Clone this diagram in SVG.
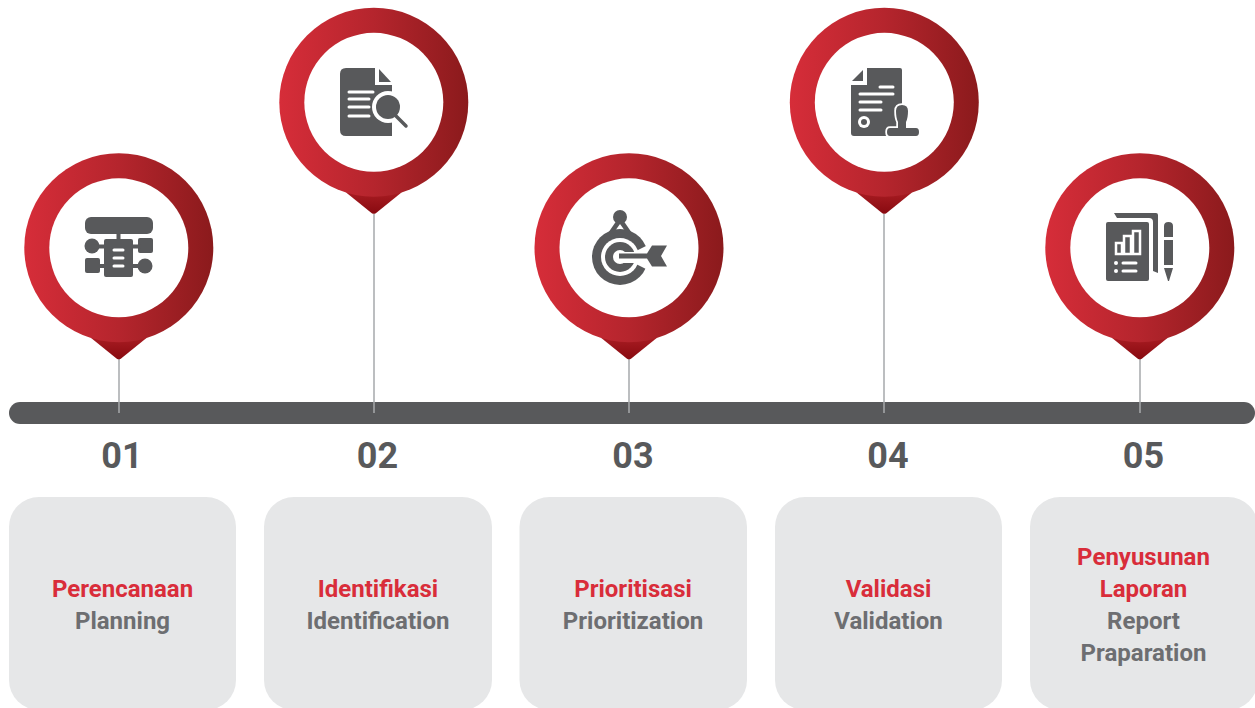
<svg xmlns="http://www.w3.org/2000/svg" xmlns:xlink="http://www.w3.org/1999/xlink" width="1255" height="708" viewBox="0 0 1255 708">
<style>
text{font-family:Roboto,"Liberation Sans",sans-serif;font-weight:700;text-anchor:middle}
.num{font-size:36px;fill:#58595b}
.red{font-size:24px;fill:#d92d3a}
.gray{font-size:24px;fill:#6d6e71}
.card{fill:#e6e7e8}
.stem{stroke:#a7a9ac;stroke-width:1.5;fill:none}
.d{fill:#58595b}
.w{fill:#fff}
.wl{stroke:#fff;stroke-width:3;stroke-linecap:round;fill:none}
</style>
<defs>
<linearGradient id="ring" x1="0" y1="0" x2="1" y2="0"><stop offset="0" stop-color="#d62d39"/><stop offset="0.5" stop-color="#b5252d"/><stop offset="1" stop-color="#8b1a1c"/></linearGradient>
<linearGradient id="tip" x1="0" y1="0" x2="0" y2="1"><stop offset="0" stop-color="#a81c22"/><stop offset="1" stop-color="#880a10"/></linearGradient>
<g id="pin">
<path d="M-28 90 L-2 111 Q0 112 2 111 L28 90 Z" fill="url(#tip)"/>
<circle r="94.500" fill="url(#ring)"/>
<circle r="69.500" fill="#fff"/>
</g>
</defs>
<g id="connectors">
<rect x="9" y="402" width="1246" height="22" rx="11" fill="#58595b"/>
<path class="stem" d="M119 359V413M374 214V413M629 359V413M884 214V413M1140 359V413"/>
</g>
<g id="node1">
<use xlink:href="#pin" href="#pin" x="118.800" y="247.800"/>
<g class="d">
<rect x="85" y="217" width="68" height="17" rx="6"/>
<rect x="116.500" y="233" width="4" height="7"/>
<path d="M106 239H131Q133 239 133 241V275Q133 277 131 277H106Q104 277 104 275V241Q104 239 106 239Z"/>
<circle cx="92" cy="246" r="7.500"/>
<rect x="138" y="238" width="15" height="15" rx="2"/>
<rect x="85" y="258" width="15" height="15" rx="2"/>
<circle cx="145" cy="266" r="7.500"/>
<rect x="92" y="244.500" width="14" height="4"/>
<rect x="131" y="244.500" width="10" height="4"/>
<rect x="98" y="264" width="8" height="4"/>
<rect x="131" y="264" width="10" height="4"/>
</g>
<path class="wl" d="M114 250H123M114 258H123M114 266H123"/>
</g>
<g id="node2">
<use xlink:href="#pin" href="#pin" x="373.800" y="102.300"/>
<path class="d" d="M346 68H375V85H392V136H346Q340 136 340 130V74Q340 68 346 68Z"/>
<path class="d" d="M379 69L391 82H379Z"/>
<path class="wl" d="M349 92H373M349 99H369M349 107H369M349 116H369"/>
<circle class="w" cx="388" cy="107" r="16"/>
<path d="M396 116L406 126" stroke="#fff" stroke-width="6" stroke-linecap="round"/>
<circle class="d" cx="388" cy="107" r="12"/>
<path d="M396 116L406 126" stroke="#58595b" stroke-width="3.500" stroke-linecap="round"/>
</g>
<g id="node3">
<use xlink:href="#pin" href="#pin" x="629" y="247.800"/>
<circle class="d" cx="620" cy="217" r="7"/>
<path class="d" d="M617 220L606 236H634L623 220Z"/>
<path class="w" d="M620 224L615 231H625Z"/>
<circle class="d" cx="620" cy="257" r="28"/>
<circle class="w" cx="620" cy="257" r="19"/>
<circle class="d" cx="620" cy="257" r="15"/>
<circle class="w" cx="620" cy="257" r="7"/>
<path class="w" d="M620 252H634L652 243V272L634 263H620Z"/>
<path class="d" d="M619 253.500H647L652 245.500H667L661 256L667 266.500H652L647 258.500H619Z"/>
</g>
<g id="node4">
<use xlink:href="#pin" href="#pin" x="884.300" y="102.300"/>
<path class="d" d="M867 68H900Q902 68 902 70V136H854Q851 136 851 133V85H867Z"/>
<path class="d" d="M863 70L852 81H863Z"/>
<path class="wl" d="M880 87H893M860 94H893M860 102H881M860 110H881"/>
<circle class="w" cx="864" cy="122" r="6"/>
<circle class="d" cx="864" cy="122" r="3"/>
<path d="M896 111Q896 105 902 105Q908 105 908 111Q908 118 906 122V128H916Q919 128 919 132Q919 136 916 136H890Q887 136 887 132Q887 128 890 128H898V122Q896 118 896 111Z" fill="#58595b" stroke="#fff" stroke-width="3.500" paint-order="stroke"/>
</g>
<g id="node5">
<use xlink:href="#pin" href="#pin" x="1139.800" y="247.800"/>
<path class="d" d="M1114 213H1156Q1158 213 1158 215V273L1153 271V222Q1153 218 1149 218H1117Z"/>
<rect class="d" x="1106" y="222" width="43" height="59" rx="2"/>
<path d="M1116 243H1122V254H1116ZM1124 236H1131V254H1124ZM1133 231H1140V254H1133Z" fill="#58595b" stroke="#fff" stroke-width="2.500"/>
<circle class="w" cx="1116" cy="263" r="2"/>
<circle class="w" cx="1116" cy="271" r="2"/>
<path class="wl" d="M1123 263H1136M1123 271H1136"/>
<path class="d" d="M1164 237V226Q1164 222 1168.500 222Q1173 222 1173 226V237ZM1164 240H1173V265H1164ZM1164 268H1173L1169 281H1168Z"/>
</g>
<g id="step1"><text class="num" x="122" y="468">01</text><rect class="card" x="9" y="497" width="227" height="213" rx="30"/><text class="red" x="122.500" y="597">Perencanaan</text><text class="gray" x="122.500" y="629">Planning</text></g>
<g id="step2"><text class="num" x="377.500" y="468">02</text><rect class="card" x="264" y="497" width="228" height="213" rx="30"/><text class="red" x="378" y="597">Identifikasi</text><text class="gray" x="378" y="629">Identification</text></g>
<g id="step3"><text class="num" x="633" y="468">03</text><rect class="card" x="519.500" y="497" width="227.500" height="213" rx="30"/><text class="red" x="633" y="597">Prioritisasi</text><text class="gray" x="633" y="629">Prioritization</text></g>
<g id="step4"><text class="num" x="888" y="468">04</text><rect class="card" x="775" y="497" width="227" height="213" rx="30"/><text class="red" x="888.500" y="597">Validasi</text><text class="gray" x="888.500" y="629">Validation</text></g>
<g id="step5"><text class="num" x="1143.500" y="468">05</text><rect class="card" x="1030" y="497" width="228" height="213" rx="30"/><text class="red" x="1143.500" y="565">Penyusunan</text><text class="red" x="1143.500" y="597">Laporan</text><text class="gray" x="1143.500" y="629">Report</text><text class="gray" x="1143.500" y="661">Praparation</text></g>
</svg>
